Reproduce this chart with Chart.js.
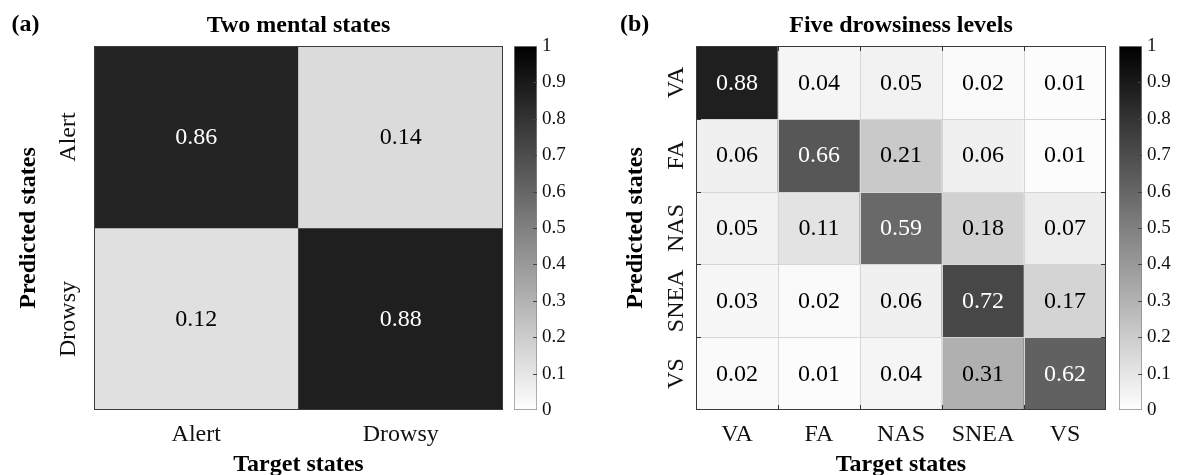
<!DOCTYPE html>
<html>
<head>
<meta charset="utf-8">
<title>Confusion matrices</title>
<script src="https://cdn.jsdelivr.net/npm/chart.js@4.4.1/dist/chart.umd.min.js"></script>
<style>
  html, body { margin: 0; padding: 0; background: #fff; }
  #wrap { position: relative; width: 1177px; height: 475px; overflow: hidden; }
  #wrap canvas { position: absolute; top: 0; }
</style>
</head>
<body>
<div id="wrap">
  <canvas id="heatA" width="512" height="475" style="left:0"></canvas>
  <canvas id="barA" width="80" height="475" style="left:505px"></canvas>
  <canvas id="heatB" width="525" height="475" style="left:590px"></canvas>
  <canvas id="barB" width="80" height="475" style="left:1110px"></canvas>
</div>
<script>
/* =========================
   DATA
========================= */

// (a) two mental states: rows = predicted, columns = target
const stateLabels = ["Alert", "Drowsy"];
const predAlert = [0.86, 0.14];
const predDrowsy = [0.12, 0.88];

// (b) five drowsiness levels
const levelLabels = ["VA", "FA", "NAS", "SNEA", "VS"];
const predVA = [0.88, 0.04, 0.05, 0.02, 0.01];
const predFA = [0.06, 0.66, 0.21, 0.06, 0.01];
const predNAS = [0.05, 0.11, 0.59, 0.18, 0.07];
const predSNEA = [0.03, 0.02, 0.06, 0.72, 0.17];
const predVS = [0.02, 0.01, 0.04, 0.31, 0.62];

const colorbarRange = [0, 1];


/* =========================
   HELPERS
========================= */

const SERIF = "'Liberation Serif', 'Times New Roman', serif";
Chart.defaults.font.family = SERIF;
Chart.defaults.color = "#111";

function grayFor(v) {
  const g = Math.round(255 * (1 - v));
  return `rgb(${g},${g},${g})`;
}

// "(a)" / "(b)" tags
const panelTag = {
  id: "panelTag",
  afterDraw(chart, args, opts) {
    const ctx = chart.ctx;
    ctx.save();
    ctx.font = `bold 24px ${SERIF}`;
    ctx.fillStyle = "#000";
    ctx.textAlign = "left";
    ctx.textBaseline = "middle";
    ctx.fillText(opts.text, opts.x, 25);
    ctx.restore();
  }
};

// cell values, grid, box and boundary ticks
const heatDecor = {
  id: "heatDecor",
  afterDatasetsDraw(chart, args, opts) {
    const { ctx, chartArea: a, scales: { x, y } } = chart;
    const nCols = chart.data.labels.length;
    const nRows = chart.data.datasets.length;
    ctx.save();

    const xb = [];
    for (let i = 1; i < nCols; i++) {
      xb.push(Math.round((x.getPixelForValue(i - 1) + x.getPixelForValue(i)) / 2) + 0.5);
    }
    const yb = [];
    for (let i = 1; i < nRows; i++) yb.push(Math.round(y.getPixelForValue(i)) + 0.5);

    if (opts.grid) {
      ctx.strokeStyle = "#d6d6d6";
      ctx.lineWidth = 1;
      ctx.beginPath();
      xb.forEach(px => { ctx.moveTo(px, a.top); ctx.lineTo(px, a.bottom); });
      yb.forEach(py => { ctx.moveTo(a.left, py); ctx.lineTo(a.right, py); });
      ctx.stroke();

      ctx.strokeStyle = "#333";
      ctx.beginPath();
      xb.forEach(px => {
        ctx.moveTo(px, a.top); ctx.lineTo(px, a.top + 5);
        ctx.moveTo(px, a.bottom); ctx.lineTo(px, a.bottom - 5);
      });
      yb.forEach(py => {
        ctx.moveTo(a.left, py); ctx.lineTo(a.left + 5, py);
        ctx.moveTo(a.right, py); ctx.lineTo(a.right - 5, py);
      });
      ctx.stroke();
    }

    ctx.strokeStyle = "#3a3a3a";
    ctx.lineWidth = 1;
    ctx.strokeRect(Math.round(a.left) + 0.5, Math.round(a.top) + 0.5,
      Math.round(a.right - a.left) - 1, Math.round(a.bottom - a.top) - 1);

    ctx.font = `24px ${SERIF}`;
    ctx.textAlign = "center";
    ctx.textBaseline = "middle";
    chart.data.datasets.forEach((ds, r) => {
      chart.getDatasetMeta(r).data.forEach((bar, c) => {
        const v = ds.cellValues[c];
        const p = bar.getCenterPoint();
        ctx.fillStyle = v > 0.5 ? "#fff" : "#000";
        ctx.fillText(v.toFixed(2), p.x, p.y + 1);
      });
    });
    ctx.restore();
  }
};

// small inward ticks on the colorbar
const barTicks = {
  id: "barTicks",
  afterDraw(chart) {
    const { ctx, chartArea: a, scales: { y } } = chart;
    ctx.save();
    ctx.strokeStyle = "#444";
    ctx.lineWidth = 1;
    ctx.beginPath();
    y.ticks.forEach(t => {
      if (t.value <= 0 || t.value >= 1) return;
      const py = Math.round(y.getPixelForValue(t.value)) + 0.5;
      ctx.moveTo(a.right - 4, py);
      ctx.lineTo(a.right, py);
    });
    ctx.stroke();
    ctx.restore();
  }
};


/* =========================
   HEATMAPS
========================= */

function heatmapChart(canvasId, cfg) {
  const { cols, rows, matrix, title, tag, tagX, yAxisWidth, yTitlePad, yTickPad, grid } = cfg;
  return new Chart(document.getElementById(canvasId), {
    type: "bar",
    data: {
      labels: cols,
      datasets: matrix.map((row, r) => ({
        label: rows[r],
        data: row.map(() => 1),
        cellValues: row,
        backgroundColor: row.map(grayFor),
        borderWidth: 0,
        categoryPercentage: 1,
        barPercentage: 1
      }))
    },
    options: {
      responsive: false,
      animation: false,
      events: [],
      layout: { padding: { right: 9 } },
      plugins: {
        legend: { display: false },
        tooltip: { enabled: false },
        title: {
          display: true,
          text: title,
          fullSize: false,
          color: "#000",
          font: { size: 24, weight: "bold" },
          padding: { top: 11.6, bottom: 5.6 }
        },
        panelTag: { text: tag, x: tagX },
        heatDecor: { grid }
      },
      scales: {
        x: {
          stacked: true,
          grid: { display: false, drawTicks: false },
          border: { display: false },
          ticks: { font: { size: 24 }, padding: 10, maxRotation: 0, autoSkip: false },
          title: {
            display: true,
            text: "Target states",
            color: "#000",
            font: { size: 24, weight: "bold" },
            padding: { top: 0, bottom: -4 }
          },
          afterFit: s => { s.height = 65; }
        },
        y: {
          stacked: true,
          reverse: true,
          min: 0,
          max: rows.length,
          grid: { display: false, drawTicks: false },
          border: { display: false },
          afterBuildTicks: s => { s.ticks = rows.map((_, i) => ({ value: i + 0.5 })); },
          ticks: {
            autoSkip: false,
            minRotation: 90,
            maxRotation: 90,
            crossAlign: "center",
            padding: yTickPad,
            font: { size: 24 },
            callback: (v, i) => rows[i]
          },
          title: {
            display: true,
            text: "Predicted states",
            color: "#000",
            font: { size: 24, weight: "bold" },
            padding: { top: yTitlePad, bottom: 0 }
          },
          afterFit: s => { s.width = yAxisWidth; }
        }
      }
    },
    plugins: [panelTag, heatDecor]
  });
}


/* =========================
   COLORBARS
========================= */

function colorbarChart(canvasId) {
  return new Chart(document.getElementById(canvasId), {
    type: "bar",
    data: {
      labels: ["cb"],
      datasets: [{
        data: [colorbarRange],
        backgroundColor: ctx => {
          const chart = ctx.chart;
          if (!chart.chartArea) return "#888";
          const y = chart.scales.y;
          const g = chart.ctx.createLinearGradient(0, y.getPixelForValue(colorbarRange[0]), 0, y.getPixelForValue(colorbarRange[1]));
          g.addColorStop(0, grayFor(colorbarRange[0]));
          g.addColorStop(1, grayFor(colorbarRange[1]));
          return g;
        },
        borderColor: "#8a8a8a",
        borderWidth: 1,
        borderSkipped: false,
        categoryPercentage: 1,
        barPercentage: 1
      }]
    },
    options: {
      responsive: false,
      animation: false,
      events: [],
      layout: { padding: { left: 9, top: 46, bottom: 65 } },
      plugins: { legend: { display: false }, tooltip: { enabled: false } },
      scales: {
        x: { display: false },
        y: {
          position: "right",
          min: colorbarRange[0],
          max: colorbarRange[1],
          grid: { display: false, drawTicks: false },
          border: { display: false },
          ticks: {
            stepSize: 0.1,
            padding: 5,
            font: { size: 19 },
            callback: v => String(Number(v.toFixed(1)))
          },
          afterFit: s => { s.width = 48; }
        }
      }
    },
    plugins: [barTicks]
  });
}


/* =========================
   INIT
========================= */

heatmapChart("heatA", {
  cols: stateLabels,
  rows: stateLabels,
  matrix: [predAlert, predDrowsy],
  title: "Two mental states",
  tag: "(a)",
  tagX: 11.5,
  yAxisWidth: 94,
  yTitlePad: 14,
  yTickPad: -13,
  grid: false
});

heatmapChart("heatB", {
  cols: levelLabels,
  rows: levelLabels,
  matrix: [predVA, predFA, predNAS, predSNEA, predVS],
  title: "Five drowsiness levels",
  tag: "(b)",
  tagX: 30,
  yAxisWidth: 106,
  yTitlePad: 31,
  yTickPad: -12,
  grid: true
});

colorbarChart("barA");
colorbarChart("barB");
</script>
</body>
</html>
